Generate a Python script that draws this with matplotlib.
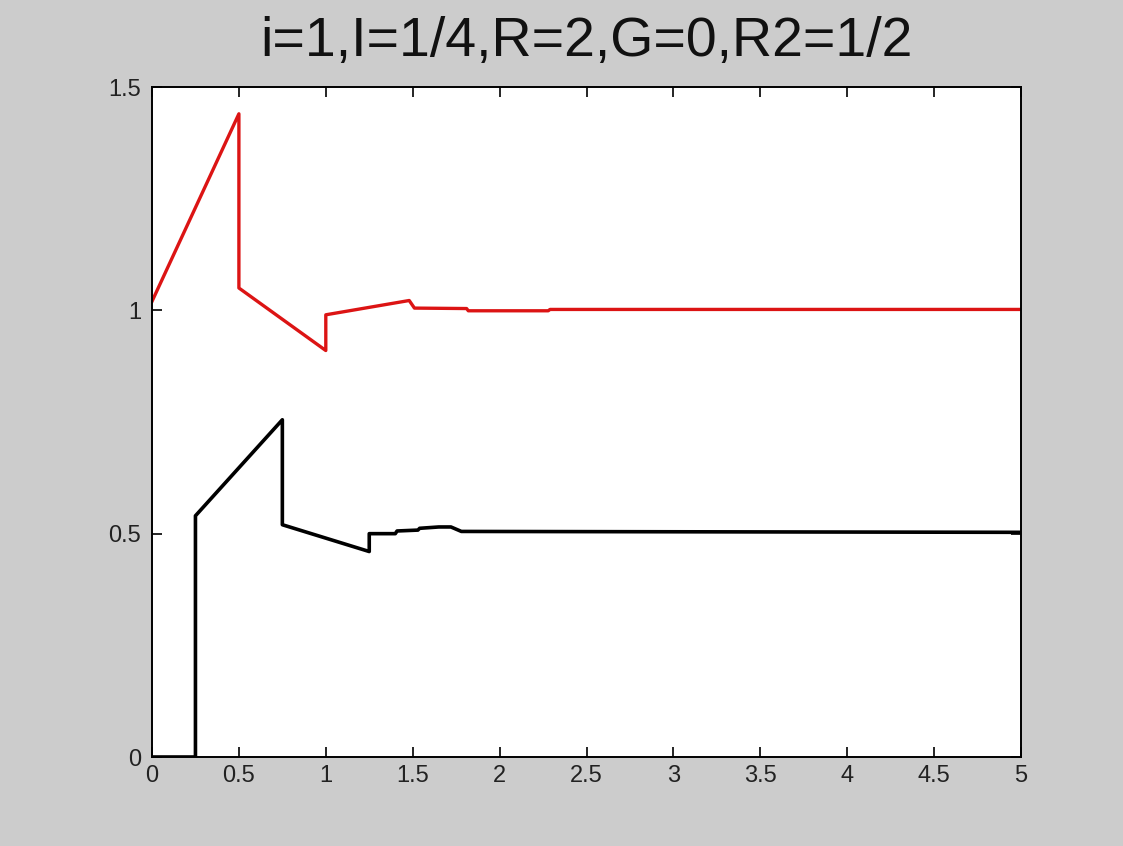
import matplotlib.pyplot as plt

# response curves, piecewise-linear samples (time, value)
t_red = [0.0, 0.5, 0.5, 1.0, 1.0, 1.48, 1.51, 1.81, 1.82, 2.28, 2.29, 5.0]
v_red = [1.02, 1.44, 1.05, 0.91, 0.99, 1.022, 1.005, 1.004, 0.999, 0.999, 1.002, 1.002]

t_black = [0.0, 0.25, 0.25, 0.75, 0.75, 1.25, 1.25, 1.40, 1.41, 1.53, 1.54, 1.65, 1.72, 1.78, 5.0]
v_black = [0.0, 0.0, 0.54, 0.755, 0.52, 0.46, 0.50, 0.50, 0.506, 0.508, 0.512, 0.515, 0.515, 0.505, 0.503]

xticks = [0, 0.5, 1, 1.5, 2, 2.5, 3, 3.5, 4, 4.5, 5]
xticklabels = ['0', '0.5', '1', '1.5', '2', '2.5', '3', '3.5', '4', '4.5', '5']
yticks = [0, 0.5, 1, 1.5]
yticklabels = ['0', '0.5', '1', '1.5']

title = 'i=1,I=1/4,R=2,G=0,R2=1/2'

plt.rcParams['font.family'] = ['Liberation Sans', 'DejaVu Sans']

fig = plt.figure(figsize=(11.23, 8.46), dpi=100, facecolor='#cccccc')
ax = fig.add_axes([152/1123, 1 - 757/846, (1021 - 152)/1123, (757 - 87)/846])

ax.plot(t_red, v_red, color='#dc1414', lw=2.4)
ax.plot(t_black, v_black, color='black', lw=2.6)

ax.set_xlim(0, 5)
ax.set_ylim(0, 1.5)
ax.set_xticks(xticks)
ax.set_xticklabels(xticklabels)
ax.set_yticks(yticks)
ax.set_yticklabels(yticklabels)
ax.tick_params(direction='in', length=7, width=1.2, top=True, right=True,
               labelsize=17, pad=6, labelcolor='#222222')
ax.tick_params(axis='y', pad=8)
for s in ax.spines.values():
    s.set_linewidth(1.4)

ax.set_title(title, fontsize=40, pad=22, color='#111111')

fig.savefig('out.png', dpi=100, facecolor=fig.get_facecolor())
